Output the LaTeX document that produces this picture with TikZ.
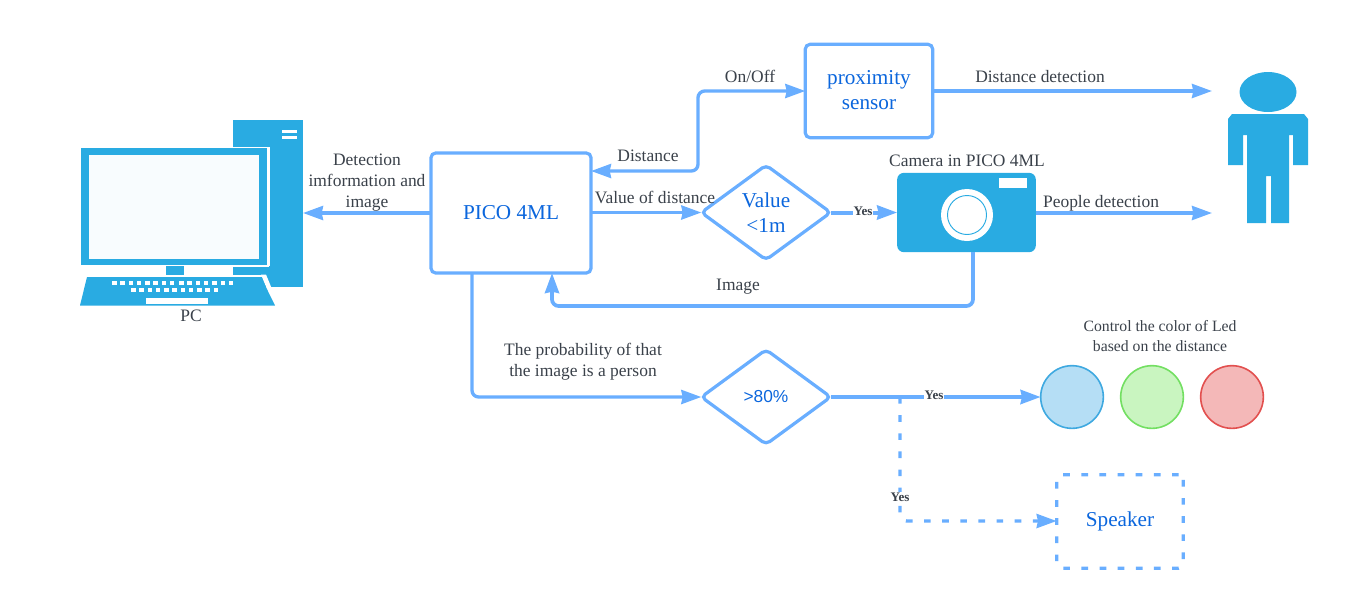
\documentclass[tikz,border=0pt]{standalone}
\usepackage{fontspec}
\setmainfont{Liberation Serif}
\setsansfont{Liberation Sans}
\usetikzlibrary{arrows.meta,shapes.geometric}
\definecolor{icon}{HTML}{29ABE2}
\definecolor{wire}{HTML}{69AEFF}
\definecolor{ink}{HTML}{3A414A}
\definecolor{bluetxt}{HTML}{0B66DD}
\definecolor{screen}{HTML}{F8FCFE}
\definecolor{lampgreen}{HTML}{73DF62}
\definecolor{lampgreenf}{HTML}{C9F5C0}
\definecolor{lampred}{HTML}{E2504F}
\definecolor{lampredf}{HTML}{F4B8B8}
\definecolor{lampblue}{HTML}{3FA9E0}
\definecolor{lampbluef}{HTML}{B5DEF5}
\tikzset{
  wirebox/.style={draw=wire,line width=2.4pt,outer sep=0pt,rounded corners=3.5pt,fill=white,text=bluetxt,font=\fontsize{15.9}{18.5}\selectfont,align=center,inner sep=0pt},
  decision/.style={wirebox,shape=diamond,minimum width=97pt,minimum height=71pt,aspect=1.38,rounded corners=3.5pt},
  flow/.style={draw=wire,line width=2.5pt,rounded corners=5pt,-{Stealth[length=15pt,width=10.5pt,inset=1pt]}},
  heavy/.style={flow,line width=3pt},
  lbl/.style={text=ink,font=\fontsize{13.1}{15.8}\selectfont,align=center,inner sep=0pt},
  small/.style={lbl,font=\fontsize{11.8}{14.3}\selectfont},
  yeslbl/.style={text=ink,font=\fontsize{9.8}{11}\selectfont\bfseries,fill=white,inner sep=0.2pt},
  iconfill/.style={fill=icon,draw=none,outer sep=0pt},
  lamp/.style={circle,minimum size=47pt,inner sep=0pt,line width=1.2pt,outer sep=0pt}
}
\begin{document}
\begin{tikzpicture}[x=0.75pt,y=-0.75pt]
\useasboundingbox (0,0) rectangle (1356,612);
% PC icon
\fill[icon] (233,120) rectangle (303,287);
\fill[white] (282,130) rectangle (297,133);
\fill[white] (282,135.5) rectangle (297,138.5);
\fill[white] (233,147) rectangle (269.5,150);
\fill[white] (266.5,147) rectangle (269.5,266);
\fill[white] (233,265) rectangle (269,266.5);
\fill[icon] (81,148) rectangle (266.5,265);
\fill[screen] (89,155) rectangle (259,259);
\fill[icon] (166,266) rectangle (184,275);
\fill[white] (184,274.5) rectangle (262,277);
\fill[white] (261,274.5) -- (266,274.5) -- (279,306) -- (274,306) -- cycle;
\fill[icon] (87,277) -- (261,277) -- (275,305.5) -- (80,305.5) -- cycle;
\fill[white] (146,298) rectangle (208,304);
\foreach \k in {0,...,7} \fill[white] ({112+\k*8.25},281) rectangle ({116.5+\k*8.25},285);
\foreach \k in {0,...,6} \fill[white] ({179+\k*8.3},281) rectangle ({183.5+\k*8.3},285);
\foreach \k in {0,...,10} \fill[white] ({131+\k*8.25},288) rectangle ({135.5+\k*8.25},292);
% person icon
\fill[icon] (1268,92) ellipse [x radius=28.5,y radius=20];
\fill[icon] (1228,165) -- (1228,119) -- (1232,114) -- (1304,114) -- (1308,119) -- (1308,165) -- (1293,165) -- (1293,135) -- (1289,135) -- (1289,223) -- (1271,223) -- (1271,176) -- (1266,176) -- (1266,223) -- (1247,223) -- (1247,135) -- (1243,135) -- (1243,165) -- cycle;
% nodes
\node[wirebox,minimum width=120pt,minimum height=90pt] (pico) at (511,213) {PICO 4ML};
\node[wirebox,minimum width=95.5pt,minimum height=70pt] (prox) at (869,91) {\raisebox{1.8pt}{proximity}\\\raisebox{1.8pt}{sensor}};
\node[decision] (val) at (766,212.5) {Value\\<1m};
\node[decision,font=\sffamily\fontsize{13}{15}\selectfont] (prob) at (766,397) {>80\%};
\node[iconfill,shape=rectangle,rounded corners=5pt,minimum width=104pt,minimum height=59.5pt,inner sep=0pt] (cam) at (966.5,212.5) {};
\fill[white] (999,178) rectangle (1027,188);
\fill[white] (967,215) circle [radius=26];
\draw[icon,line width=0.7pt,fill=white] (967,215) circle [radius=19.5];
\node[lamp,draw=lampblue,fill=lampbluef] (ledb) at (1072,397) {};
\node[lamp,draw=lampgreen,fill=lampgreenf] (ledg) at (1152,397) {};
\node[lamp,draw=lampred,fill=lampredf] (ledr) at (1232,397) {};
\node[wirebox,dash pattern=on 5pt off 8.6pt,minimum width=95pt,minimum height=70pt] (spk) at (1120,521.5) {Speaker};
\coordinate (pcend) at (303,213);
\coordinate (humantop) at (1212,91);
\coordinate (humanlow) at (1212,213);
\coordinate (sup) at (698,91);
\coordinate (sdn) at (698,171);
\coordinate (imgR) at (973,306);
\coordinate (imgL) at (552,306);
\coordinate (probC) at (472,397);
\coordinate (tap) at (900,397);
\coordinate (tapD) at (900,521);
% connectors
\draw[flow] (pico.west |- pcend) -- (pcend);
\draw[flow,{Stealth[length=15pt,width=10.5pt,inset=1pt]}-{Stealth[length=15pt,width=10.5pt,inset=1pt]}] (pico.east |- sdn) -- (sdn) -- (sup) -- (prox.west |- sup);
\draw[flow] (prox.east |- humantop) -- (humantop);
\draw[flow] (pico.east |- val) -- (val.west);
\draw[heavy] (val.east) -- (cam.west);
\draw[flow] (cam.east |- humanlow) -- (humanlow);
\draw[flow,line width=2.8pt] (cam.south -| imgR) -- (imgR) -- (imgL) -- (pico.south -| imgL);
\draw[flow] (pico.south -| probC) -- (probC) -- (prob.west);
\draw[heavy] (prob.east) -- (ledb.west);
\draw[flow,dash pattern=on 5pt off 8.6pt] (tap) -- (tapD) -- (spk.west |- tapD);
% labels
\node[lbl] (lpc) at (191,316) {PC};
\node[lbl] (ldet) at (367,183) {Detection\\imformation and\\image};
\node[lbl] (lonoff) at (750,76) {On/Off};
\node[lbl] (ldd) at (1040,76.5) {Distance detection};
\node[lbl] (ldist) at (648,155.5) {Distance};
\node[lbl] (lval) at (655,197.5) {Value of distance};
\node[lbl] (lcam) at (967,161) {Camera in PICO 4ML};
\node[lbl] (lpeople) at (1101,203) {People detection};
\node[lbl] (limg) at (738,286.5) {Image};
\node[lbl] (lprob) at (583,361.5) {The probability of that\\the image is a person};
\node[small] (lctl) at (1160,336) {Control the color of Led\\based on the distance};
\node[yeslbl] (y1) at (863,211) {Yes};
\node[yeslbl] (y2) at (934,395) {Yes};
\node[yeslbl] (y3) at (900,497) {Yes};
\end{tikzpicture}
\end{document}
